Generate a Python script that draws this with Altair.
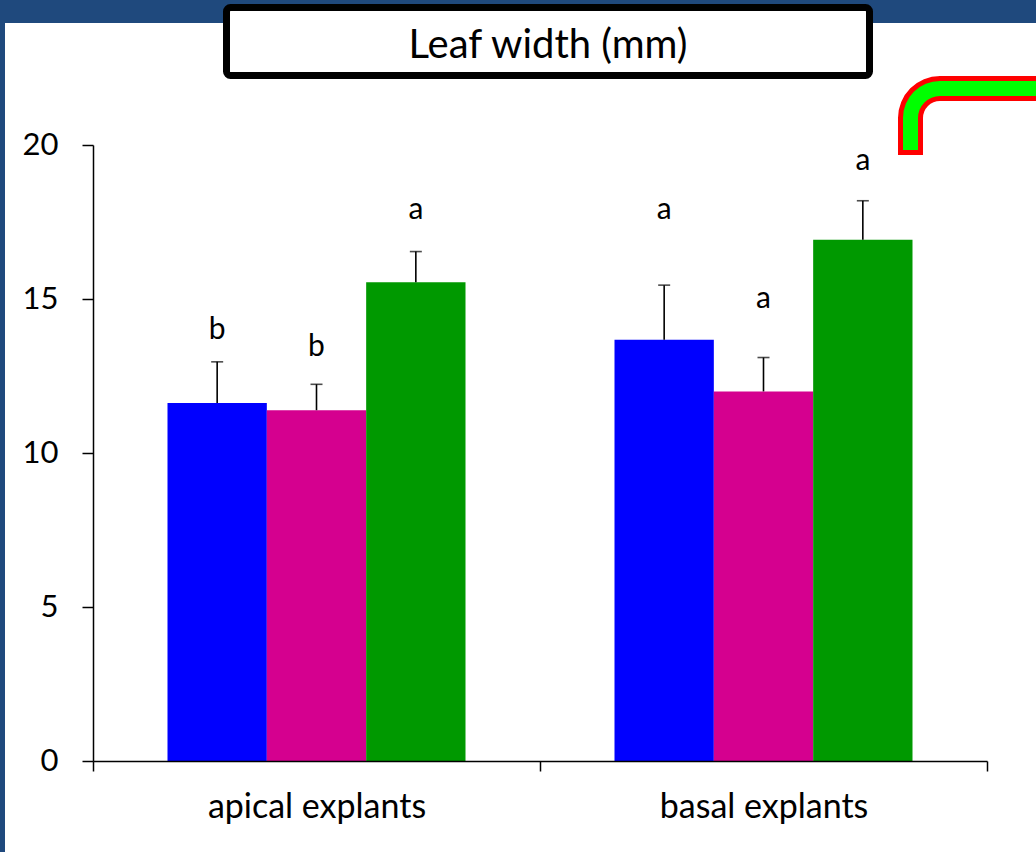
import math
import altair as alt
import pandas as pd

# ---- data ----
groups = ["apical explants", "basal explants"]
series = ["T1", "T2", "T3"]
colors = ["#0000FF", "#D5008F", "#009900"]

means_apical = [11.62, 11.39, 15.54]
means_basal = [13.68, 12.00, 16.92]
err_apical = [1.34, 0.84, 1.00]
err_basal = [1.77, 1.10, 1.27]
letters_apical = ["b", "b", "a"]
letters_basal = ["a", "a", "a"]
# baseline height (axis units) of each significance letter
letter_y_apical = [13.70, 13.15, 17.60]
letter_y_basal = [17.60, 14.71, 19.19]

rows = []
for g, means, errs, lets, lys in [
    (groups[0], means_apical, err_apical, letters_apical, letter_y_apical),
    (groups[1], means_basal, err_basal, letters_basal, letter_y_basal),
]:
    for s, m, e, l, ly in zip(series, means, errs, lets, lys):
        rows.append({"group": g, "series": s, "value": m, "hi": m + e,
                     "letter": l, "ly": ly})
df = pd.DataFrame(rows)
one = pd.DataFrame({"k": [0]})

FONT = "Lato"
NAVY = "#1F497D"

x_enc = alt.X("group:N", sort=groups,
              scale=alt.Scale(domain=groups, paddingInner=0, paddingOuter=0),
              axis=alt.Axis(title=None, labelAngle=0, tickBand="extent",
                            tickSize=10, tickWidth=1.5, tickColor="black",
                            domainColor="black", domainWidth=1.5,
                            labelFont=FONT, labelFontSize=34, labelColor="black",
                            labelPadding=19, labelLimit=0, zindex=1))
xo_enc = alt.XOffset("series:N", sort=series,
                     scale=alt.Scale(domain=series, paddingInner=0, paddingOuter=0.75))
y_scale = alt.Scale(domain=[0, 20], nice=False, zero=True)
y_axis = alt.Axis(title=None, values=[0, 5, 10, 15, 20], grid=False,
                  tickSize=11, tickWidth=1.5, tickColor="black",
                  domainColor="black", domainWidth=1.5,
                  labelFont=FONT, labelFontSize=31, labelColor="black",
                  labelPadding=24, zindex=1)

base = alt.Chart(df)

bars = base.mark_bar(strokeWidth=0).encode(
    x=x_enc, xOffset=xo_enc,
    y=alt.Y("value:Q", scale=y_scale, axis=y_axis),
    color=alt.Color("series:N", scale=alt.Scale(domain=series, range=colors), legend=None),
)
err = base.mark_rule(color="black", strokeWidth=1.6).encode(
    x=x_enc, xOffset=xo_enc, y="value:Q", y2="hi:Q")
caps = base.mark_tick(color="black", thickness=1.6, size=12, orient="horizontal").encode(
    x=x_enc, xOffset=xo_enc, y="hi:Q")
letters = base.mark_text(font=FONT, fontSize=30, color="black", baseline="alphabetic").encode(
    x=x_enc, xOffset=xo_enc, y="ly:Q", text="letter:N")

# ---- frame decorations (pixel positions relative to the plot origin) ----
deco = alt.Chart(one)
band_top = deco.mark_rect(color=NAVY).encode(
    x=alt.value(-93), x2=alt.value(950), y=alt.value(-145), y2=alt.value(-122))
band_left = deco.mark_rect(color=NAVY).encode(
    x=alt.value(-93), x2=alt.value(-88), y=alt.value(-145), y2=alt.value(720))

title_box = deco.mark_rect(fill="white", stroke="black", strokeWidth=7, cornerRadius=4).encode(
    x=alt.value(133.5), x2=alt.value(776.5), y=alt.value(-137.5), y2=alt.value(-69.5))
title_text = deco.mark_text(font=FONT, fontSize=40, color="black", align="center",
                            baseline="alphabetic", text="Leaf width (mm)").encode(
    x=alt.value(455), y=alt.value(-87))

# bent pipe symbol: red outline under a green core
q0, q1 = 1.5 * math.pi, 2 * math.pi
red_arc = deco.mark_arc(color="#FF0000", theta=q0, theta2=q1, radius=42, radius2=17).encode(
    x=alt.value(847), y=alt.value(-27))
red_v = deco.mark_rect(color="#FF0000").encode(
    x=alt.value(805), x2=alt.value(830), y=alt.value(-28), y2=alt.value(10))
red_h = deco.mark_rect(color="#FF0000").encode(
    x=alt.value(846), x2=alt.value(960), y=alt.value(-69), y2=alt.value(-44))
green_arc = deco.mark_arc(color="#00FF00", theta=q0, theta2=q1, radius=37, radius2=22).encode(
    x=alt.value(847), y=alt.value(-27))
green_v = deco.mark_rect(color="#00FF00").encode(
    x=alt.value(810), x2=alt.value(825), y=alt.value(-28), y2=alt.value(5))
green_h = deco.mark_rect(color="#00FF00").encode(
    x=alt.value(846), x2=alt.value(960), y=alt.value(-64), y2=alt.value(-49))

chart = alt.layer(
    band_top, band_left, title_box, title_text,
    red_arc, red_v, red_h, green_arc, green_v, green_h,
    bars, err, caps, letters,
).properties(
    width=894, height=616,
    autosize=alt.AutoSizeParams(type="none"),
    padding={"left": 93, "top": 145, "right": 49, "bottom": 91},
    background="white",
).configure_view(stroke=None)

chart.save("out.html", embed_options={"renderer": "svg", "actions": False})
